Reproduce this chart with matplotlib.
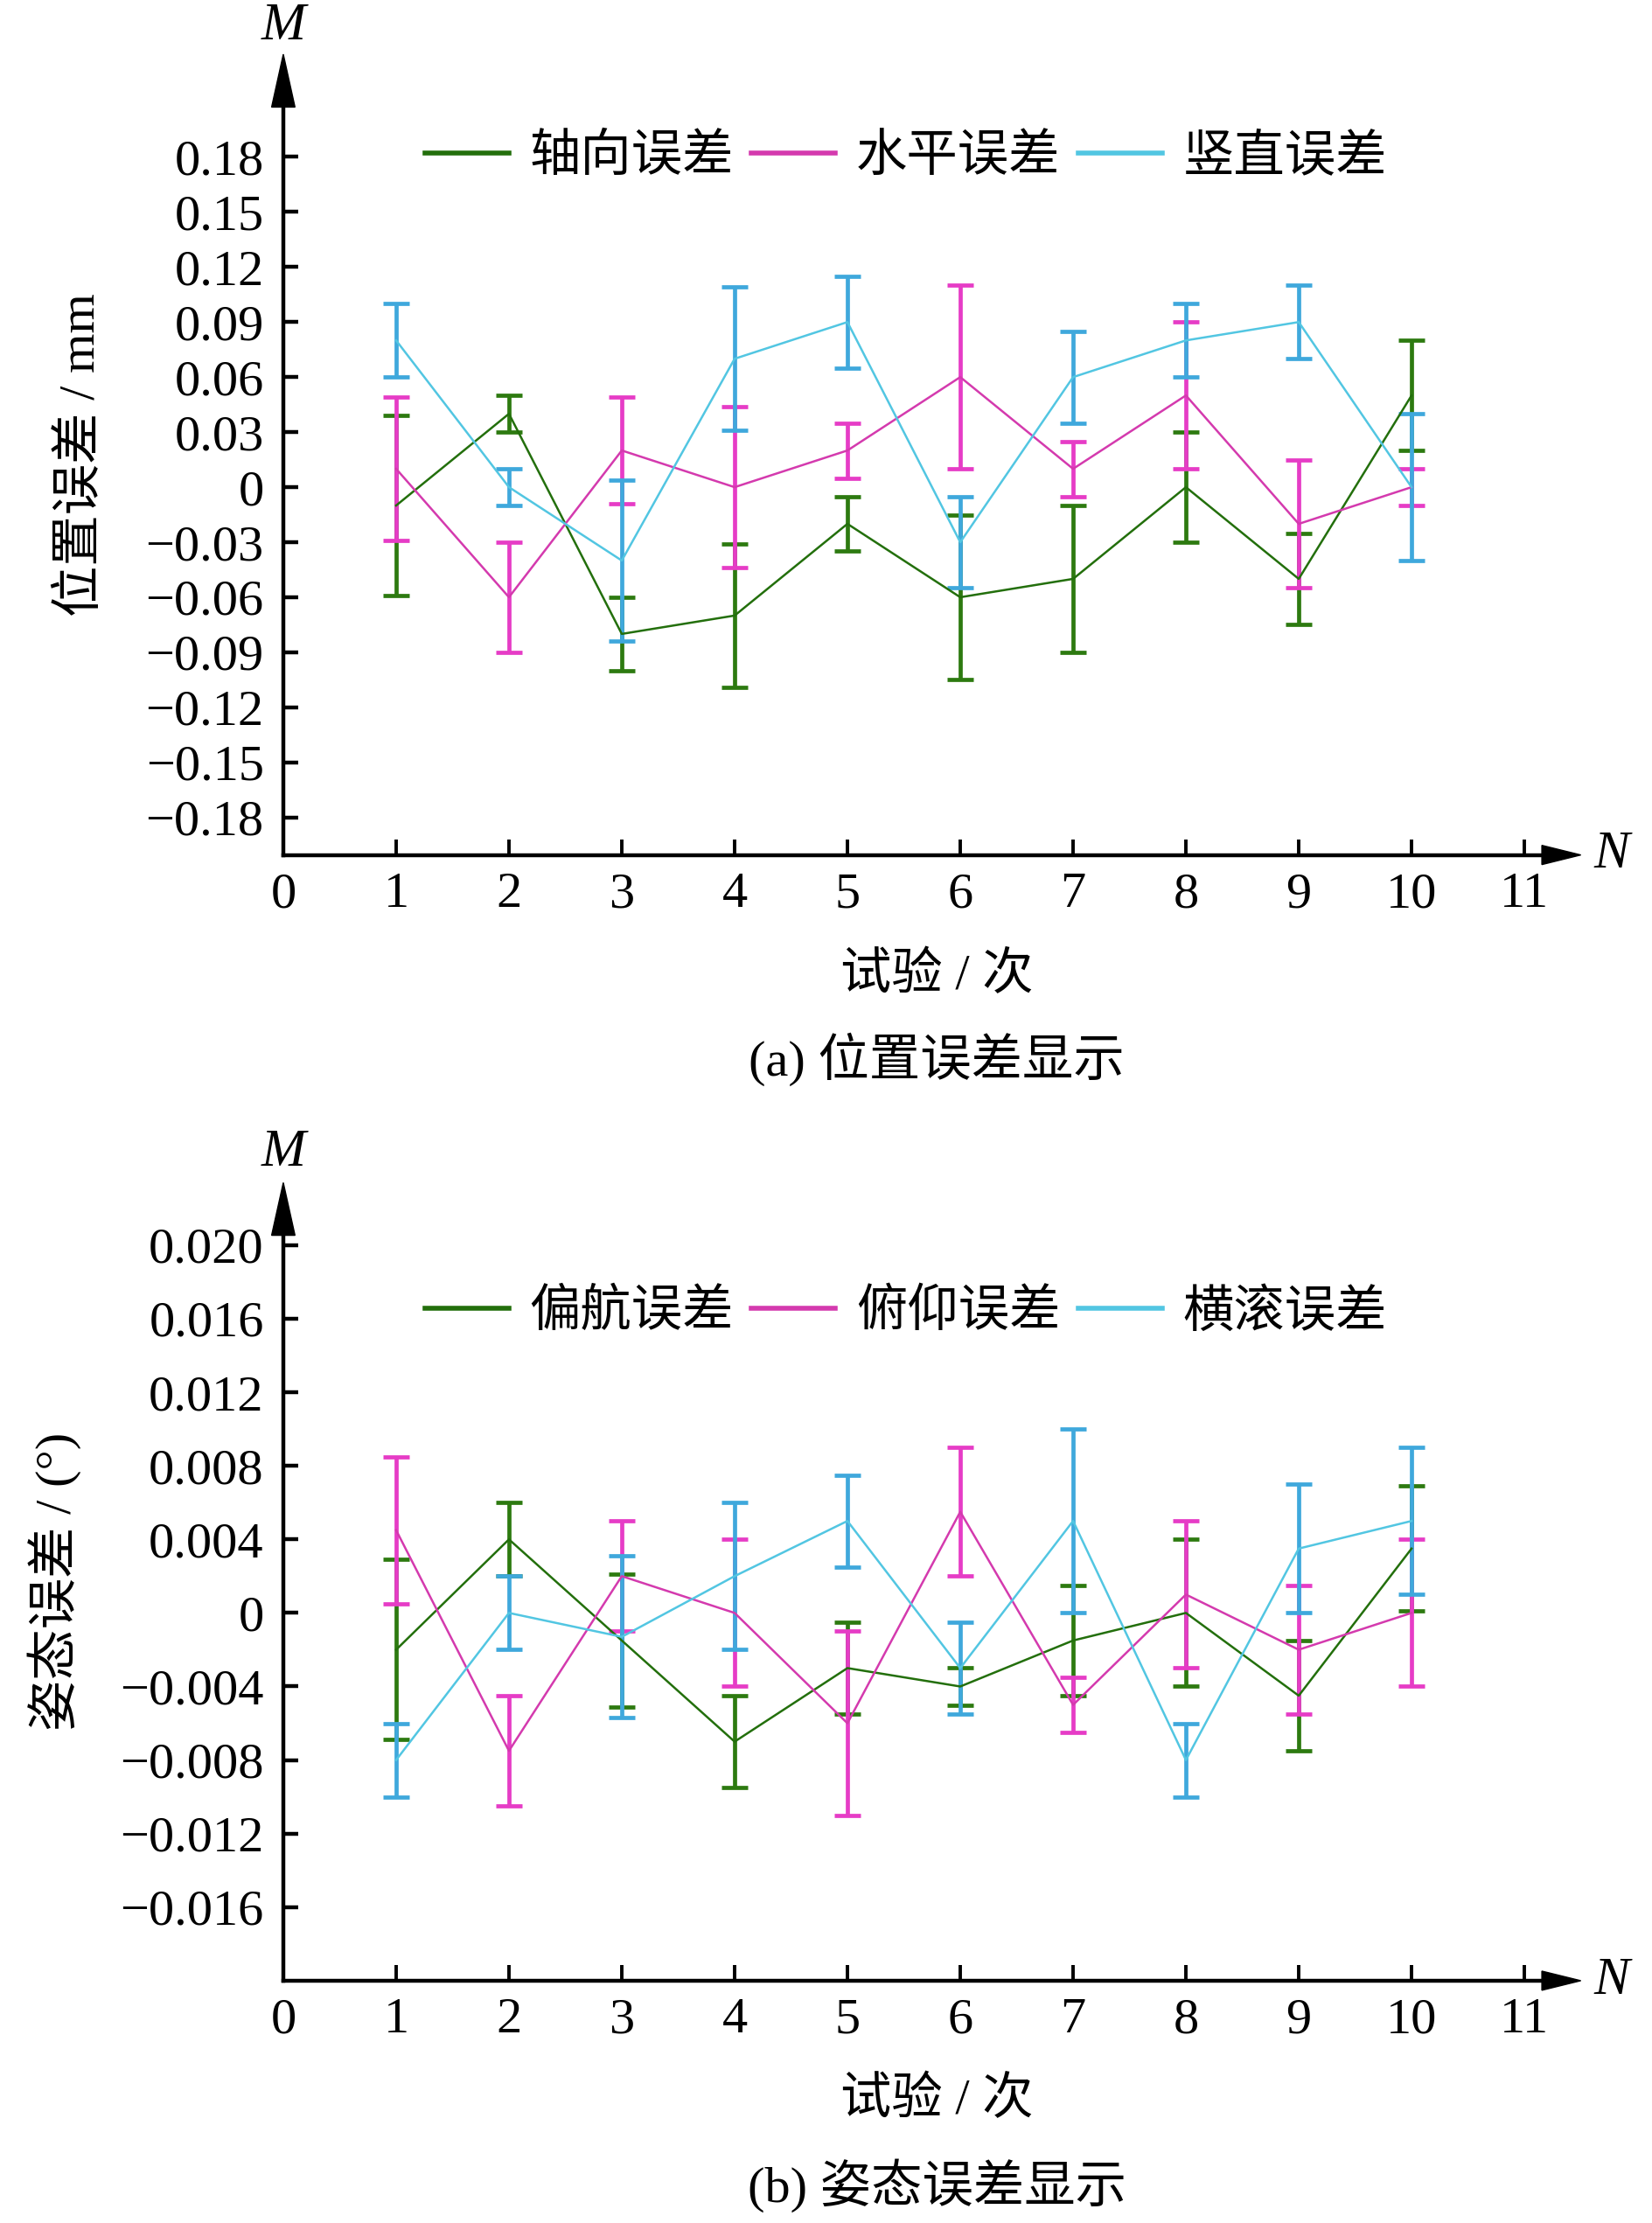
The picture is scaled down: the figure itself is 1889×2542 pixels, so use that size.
import numpy as np
import matplotlib
matplotlib.use("Agg")
import matplotlib.pyplot as plt
from matplotlib.patches import Polygon

plt.rcParams['font.family'] = ['Liberation Serif', 'Noto Sans CJK SC', 'DejaVu Sans']
plt.rcParams['axes.unicode_minus'] = True

trials = [1, 2, 3, 4, 5, 6, 7, 8, 9, 10]

# (a) position error, mm
axial = [-0.01, 0.04, -0.08, -0.07, -0.02, -0.06, -0.05, 0.0, -0.05, 0.05]
axial_err = [0.049, 0.01, 0.02, 0.039, 0.015, 0.045, 0.04, 0.03, 0.025, 0.03]
horiz = [0.01, -0.06, 0.02, 0.0, 0.02, 0.06, 0.01, 0.05, -0.02, 0.0]
horiz_err = [0.039, 0.03, 0.029, 0.044, 0.015, 0.05, 0.015, 0.04, 0.035, 0.01]
vert = [0.08, 0.0, -0.04, 0.07, 0.09, -0.03, 0.06, 0.08, 0.09, 0.0]
vert_err = [0.02, 0.01, 0.044, 0.039, 0.025, 0.025, 0.025, 0.02, 0.02, 0.04]

# (b) attitude error, deg
yaw = [-0.002, 0.004, -0.0015, -0.007, -0.003, -0.004, -0.0015, 0.0, -0.0045, 0.0035]
yaw_err = [0.0049, 0.002, 0.0036, 0.0025, 0.0025, 0.001, 0.003, 0.004, 0.003, 0.0034]
pitch = [0.0045, -0.0075, 0.002, 0.0, -0.006, 0.0055, -0.005, 0.001, -0.002, 0.0]
pitch_err = [0.004, 0.003, 0.003, 0.004, 0.005, 0.0035, 0.0015, 0.004, 0.0035, 0.004]
roll = [-0.008, 0.0, -0.0013, 0.002, 0.005, -0.003, 0.005, -0.008, 0.0035, 0.005]
roll_err = [0.002, 0.002, 0.0044, 0.004, 0.0025, 0.0025, 0.005, 0.002, 0.0035, 0.004]

top_ticks = [0.18, 0.15, 0.12, 0.09, 0.06, 0.03, 0, -0.03, -0.06, -0.09, -0.12, -0.15, -0.18]
top_labels = ['0.18', '0.15', '0.12', '0.09', '0.06', '0.03', '0', '\u22120.03', '\u22120.06',
              '\u22120.09', '\u22120.12', '\u22120.15', '\u22120.18']
bot_ticks = [0.020, 0.016, 0.012, 0.008, 0.004, 0, -0.004, -0.008, -0.012, -0.016]
bot_labels = ['0.020', '0.016', '0.012', '0.008', '0.004', '0', '\u22120.004', '\u22120.008',
              '\u22120.012', '\u22120.016']
x_ticks = list(range(0, 12))

line_cols = ['#236f0c', '#d43aae', '#52c6e2']
bar_cols = ['#2d7a10', '#e63cc6', '#3fa8dc']

fig = plt.figure(figsize=(18.9, 25.42), dpi=100)
FS = 42
cjk = ['Liberation Serif', 'Noto Sans CJK SC']
caption_text = {'轴向误差': '(a) 位置误差显示', '偏航误差': '(b) 姿态误差显示'}


def panel(rect, series, names, ylim, yticks, ylabels, ylab, ylab_x, caption_y, xlab_y, leg_y, m_y):
    ax = fig.add_axes(rect)
    ax.set_xlim(0, 11.5)
    ax.set_ylim(*ylim)
    for sp in ax.spines.values():
        sp.set_visible(False)
    handles = []
    for (vals, errs), lc, bc, nm in zip(series, line_cols, bar_cols, names):
        ax.errorbar(trials, vals, yerr=errs, fmt='none', ecolor=bc, elinewidth=3.4,
                    capsize=11, capthick=3.4, zorder=2)
        h, = ax.plot(trials, vals, color=lc, lw=1.8, zorder=3)
        handles.append(h)
    # axis lines with arrow heads
    ax.plot([0, 0], [0, 0.95], transform=ax.transAxes, color='k', lw=3.2, clip_on=False)
    ax.plot([0, 0.975], [0, 0], transform=ax.transAxes, color='k', lw=3.2, clip_on=False)
    ax.add_patch(Polygon([[0, 1], [-0.009, 0.934], [0.009, 0.934]], closed=True,
                         transform=ax.transAxes, color='k', clip_on=False))
    ax.add_patch(Polygon([[1, 0], [0.97, 0.012], [0.97, -0.012]], closed=True,
                         transform=ax.transAxes, color='k', clip_on=False))
    ax.set_yticks(yticks)
    ax.set_yticklabels(ylabels)
    ax.set_xticks(x_ticks)
    ax.tick_params(axis='y', direction='in', length=12, width=3.2, labelsize=FS, pad=16)
    ax.tick_params(axis='x', direction='in', length=13, width=2.8, labelsize=FS, pad=14)
    fig.text(0.1714, m_y, 'M', fontsize=44, style='italic', ha='center', va='center')
    fig.text(0.975, rect[1], 'N', fontsize=44, style='italic', ha='center', va='center')
    fig.text(ylab_x, rect[1] + rect[3] * 0.5, ylab, fontsize=FS, rotation=90,
             ha='center', va='center', family=cjk)
    fig.text(0.5667, xlab_y, '试验 / 次', fontsize=FS, ha='center', va='center', family=cjk)
    fig.text(0.5667, caption_y, caption_text[names[0]], fontsize=FS, ha='center', va='center',
             family=cjk)
    leg = fig.legend(handles, names, loc='center', bbox_to_anchor=(0.548, leg_y), ncol=3,
                     frameon=False, handlelength=1.65, handletextpad=0.4,
                     columnspacing=0.35, prop={'family': cjk, 'size': FS})
    for ln in leg.get_lines():
        ln.set_linewidth(4)
    return ax


panel([0.1714, 0.6154, 0.785, 0.3602],
      [(axial, axial_err), (horiz, horiz_err), (vert, vert_err)],
      ['轴向误差', '水平误差', '竖直误差'],
      (-0.2005, 0.236), top_ticks, top_labels, '位置误差 / mm', 0.049,
      0.5234, 0.561, 0.9292, 0.988)

panel([0.1714, 0.109, 0.785, 0.3590],
      [(yaw, yaw_err), (pitch, pitch_err), (roll, roll_err)],
      ['偏航误差', '俯仰误差', '横滚误差'],
      (-0.0200, 0.0234), bot_ticks, bot_labels, '姿态误差 / (°)', 0.033,
      0.0168, 0.0553, 0.4095, 0.4815)

fig.savefig('out.png', dpi=100)
